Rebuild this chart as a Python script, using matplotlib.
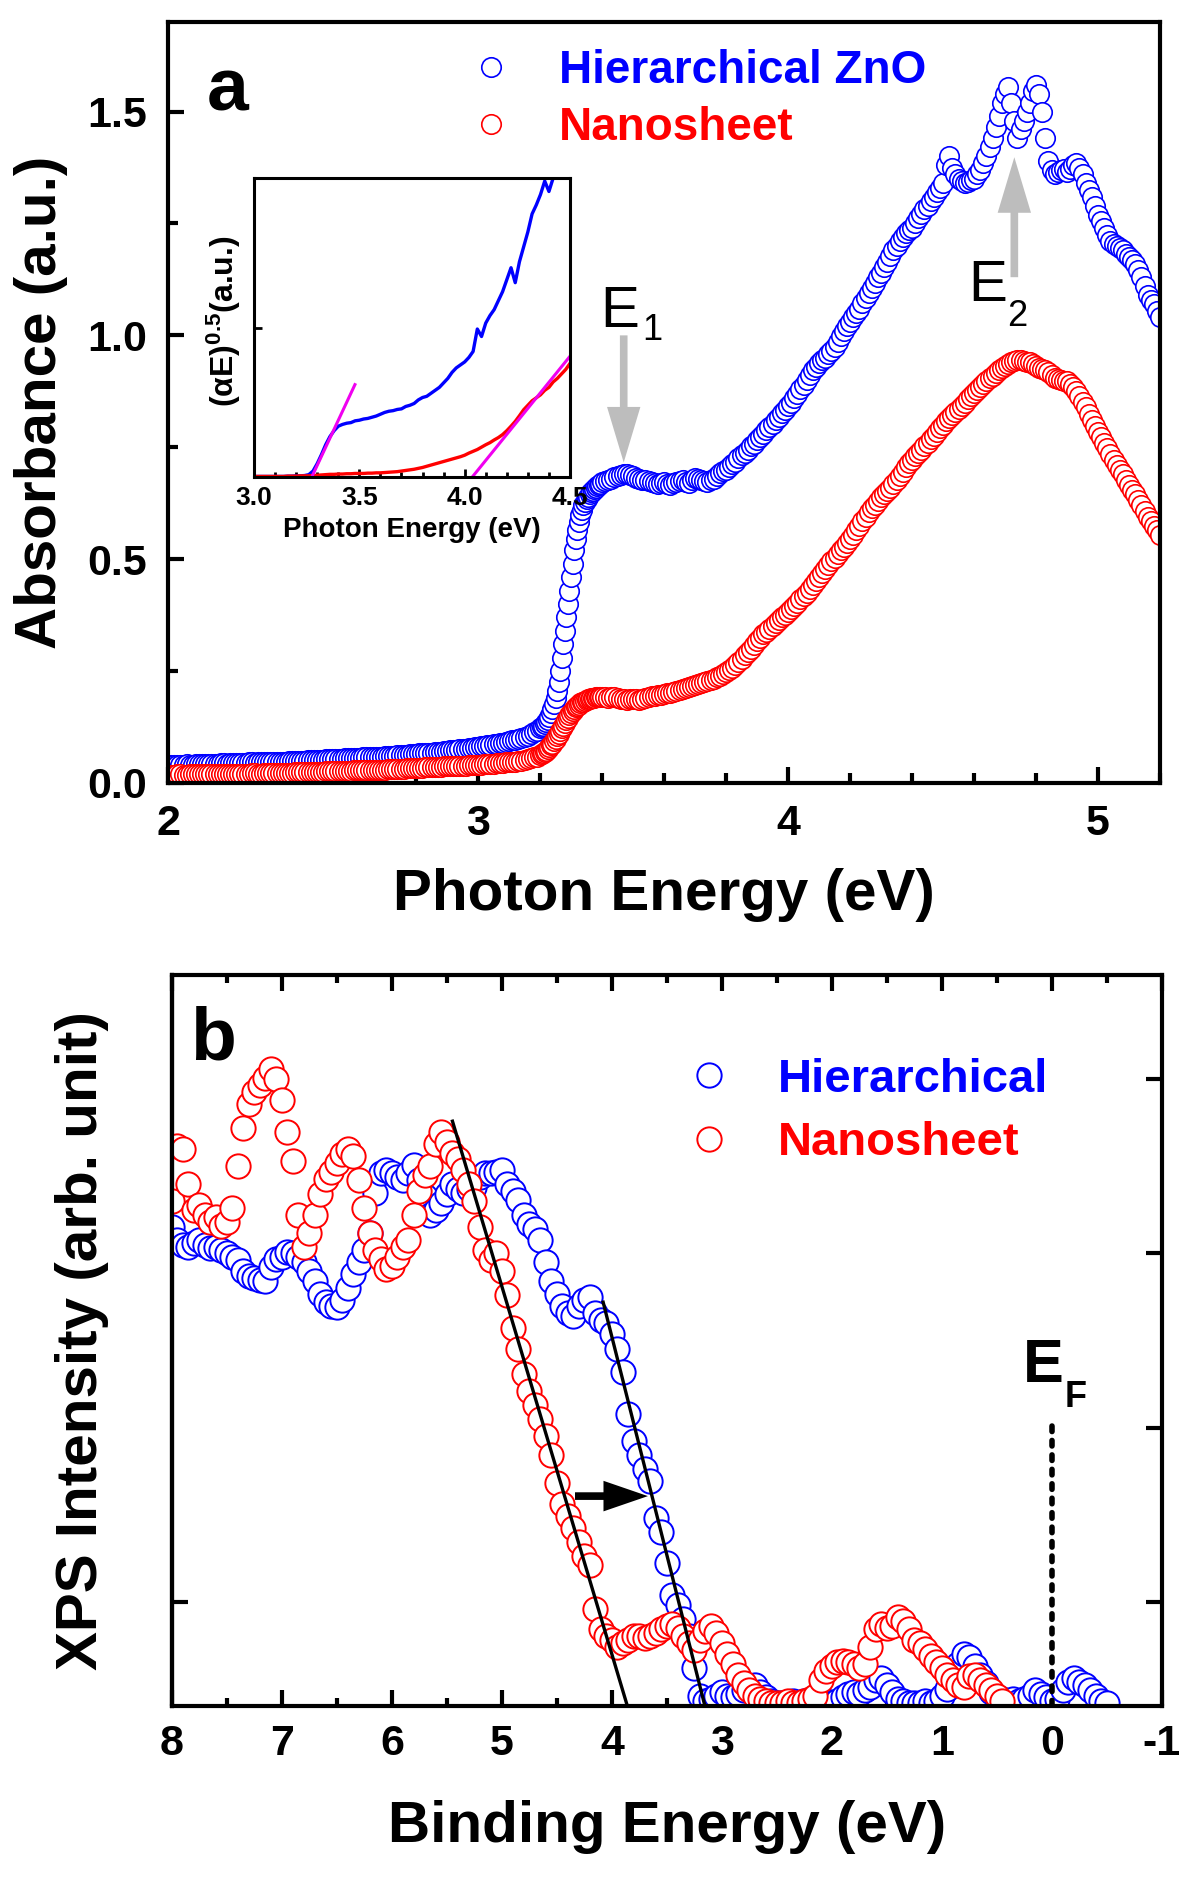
import numpy as np
import matplotlib
matplotlib.use('Agg')
import matplotlib.pyplot as plt
from matplotlib.ticker import MultipleLocator, FormatStrFormatter, NullLocator

plt.rcParams['font.family'] = ['Liberation Sans', 'DejaVu Sans']
plt.rcParams['font.weight'] = 'bold'
plt.rcParams['axes.unicode_minus'] = False
plt.rcParams['mathtext.fontset'] = 'custom'
plt.rcParams['mathtext.rm'] = 'Liberation Sans:bold'
plt.rcParams['mathtext.bf'] = 'Liberation Sans:bold'
plt.rcParams['mathtext.it'] = 'Liberation Sans:bold'

BLUE = '#0000FF'
RED = '#FF0000'
GRAY = '#BDBDBD'
MAGENTA = '#F000F0'

# ---------------- Panel a : absorbance (three energy segments) ----------------
seg_starts = [2.00, 3.205, 3.41]
seg_steps = [0.01, 0.005, 0.01]

abs_hier = [
    [0.040, 0.041, 0.041, 0.040, 0.040, 0.041, 0.042, 0.041, 0.041, 0.042,
     0.042, 0.043, 0.043, 0.042, 0.042, 0.043, 0.043, 0.044, 0.044, 0.043,
     0.044, 0.045, 0.045, 0.044, 0.044, 0.045, 0.046, 0.046, 0.045, 0.046,
     0.046, 0.047, 0.047, 0.047, 0.047, 0.048, 0.048, 0.048, 0.048, 0.049,
     0.049, 0.050, 0.050, 0.050, 0.050, 0.051, 0.051, 0.051, 0.051, 0.052,
     0.052, 0.053, 0.053, 0.053, 0.053, 0.054, 0.054, 0.055, 0.055, 0.055,
     0.055, 0.056, 0.056, 0.057, 0.057, 0.058, 0.058, 0.058, 0.058, 0.059,
     0.060, 0.060, 0.060, 0.061, 0.062, 0.062, 0.063, 0.063, 0.064, 0.064,
     0.065, 0.066, 0.066, 0.067, 0.068, 0.068, 0.069, 0.070, 0.070, 0.071,
     0.072, 0.073, 0.074, 0.074, 0.075, 0.076, 0.077, 0.078, 0.079, 0.080,
     0.081, 0.082, 0.083, 0.084, 0.085, 0.086, 0.088, 0.089, 0.090, 0.092,
     0.093, 0.095, 0.097, 0.099, 0.101, 0.103, 0.106, 0.109, 0.113, 0.117,
     0.122],
    [0.125, 0.128, 0.131, 0.136, 0.141, 0.148, 0.156, 0.165, 0.176, 0.190,
     0.206, 0.225, 0.250, 0.280, 0.310, 0.340, 0.370, 0.400, 0.430, 0.460,
     0.490, 0.520, 0.545, 0.565, 0.583, 0.598, 0.610, 0.620, 0.628, 0.635,
     0.640, 0.645, 0.649, 0.653, 0.657, 0.660, 0.663, 0.666, 0.669, 0.672],
    [0.674, 0.676, 0.680, 0.683, 0.686, 0.688, 0.690, 0.690, 0.688, 0.686,
     0.682, 0.680, 0.678, 0.676, 0.674, 0.672, 0.670, 0.668, 0.670, 0.672,
     0.668, 0.666, 0.670, 0.672, 0.675, 0.676, 0.672, 0.670, 0.676, 0.682,
     0.680, 0.676, 0.674, 0.672, 0.676, 0.680, 0.686, 0.692, 0.696, 0.700,
     0.706, 0.712, 0.718, 0.726, 0.732, 0.738, 0.745, 0.752, 0.758, 0.766,
     0.772, 0.780, 0.788, 0.796, 0.802, 0.810, 0.818, 0.826, 0.834, 0.842,
     0.850, 0.860, 0.870, 0.880, 0.890, 0.900, 0.912, 0.922, 0.930, 0.938,
     0.944, 0.950, 0.958, 0.965, 0.975, 0.985, 0.998, 1.010, 1.020, 1.030,
     1.040, 1.050, 1.060, 1.072, 1.084, 1.095, 1.106, 1.118, 1.130, 1.140,
     1.152, 1.165, 1.178, 1.190, 1.200, 1.210, 1.220, 1.228, 1.236, 1.240,
     1.250, 1.262, 1.272, 1.282, 1.290, 1.300, 1.310, 1.320, 1.330, 1.340,
     1.380, 1.400, 1.375, 1.360, 1.350, 1.345, 1.340, 1.342, 1.346, 1.350,
     1.360, 1.370, 1.385, 1.400, 1.420, 1.440, 1.465, 1.490, 1.520, 1.540,
     1.555, 1.520, 1.480, 1.440, 1.460, 1.480, 1.500, 1.520, 1.545, 1.560,
     1.540, 1.500, 1.440, 1.390, 1.370, 1.360, 1.365, 1.370, 1.372, 1.365,
     1.372, 1.380, 1.385, 1.375, 1.360, 1.340, 1.325, 1.310, 1.290, 1.270,
     1.255, 1.240, 1.225, 1.210, 1.205, 1.200, 1.195, 1.190, 1.182, 1.175,
     1.168, 1.160, 1.145, 1.130, 1.110, 1.090, 1.080, 1.070, 1.055, 1.040],
]
abs_nano = [
    [0.018, 0.018, 0.018, 0.019, 0.019, 0.018, 0.018, 0.019, 0.019, 0.019,
     0.019, 0.020, 0.020, 0.019, 0.019, 0.020, 0.020, 0.020, 0.020, 0.021,
     0.021, 0.020, 0.020, 0.021, 0.021, 0.021, 0.021, 0.022, 0.022, 0.021,
     0.021, 0.022, 0.022, 0.022, 0.022, 0.023, 0.023, 0.023, 0.023, 0.023,
     0.023, 0.024, 0.024, 0.024, 0.024, 0.024, 0.024, 0.025, 0.025, 0.025,
     0.025, 0.026, 0.026, 0.026, 0.026, 0.026, 0.027, 0.027, 0.027, 0.027,
     0.028, 0.028, 0.028, 0.029, 0.029, 0.029, 0.029, 0.030, 0.030, 0.030,
     0.030, 0.031, 0.031, 0.032, 0.032, 0.032, 0.032, 0.033, 0.033, 0.033,
     0.034, 0.034, 0.034, 0.035, 0.035, 0.036, 0.036, 0.036, 0.036, 0.037,
     0.037, 0.038, 0.038, 0.038, 0.038, 0.039, 0.039, 0.040, 0.040, 0.040,
     0.041, 0.041, 0.042, 0.042, 0.043, 0.043, 0.044, 0.045, 0.045, 0.046,
     0.046, 0.047, 0.048, 0.049, 0.050, 0.051, 0.053, 0.055, 0.057, 0.059,
     0.062],
    [0.064, 0.066, 0.069, 0.072, 0.076, 0.080, 0.084, 0.088, 0.093, 0.098,
     0.104, 0.110, 0.116, 0.122, 0.128, 0.134, 0.140, 0.146, 0.151, 0.156,
     0.161, 0.165, 0.169, 0.172, 0.175, 0.178, 0.180, 0.182, 0.184, 0.186,
     0.187, 0.188, 0.189, 0.190, 0.190, 0.191, 0.191, 0.191, 0.192, 0.192],
    [0.191, 0.190, 0.191, 0.192, 0.190, 0.188, 0.187, 0.186, 0.187, 0.188,
     0.187, 0.186, 0.188, 0.190, 0.192, 0.194, 0.195, 0.196, 0.197, 0.198,
     0.200, 0.202, 0.204, 0.206, 0.208, 0.210, 0.212, 0.214, 0.217, 0.220,
     0.222, 0.224, 0.226, 0.228, 0.230, 0.232, 0.236, 0.240, 0.244, 0.248,
     0.253, 0.258, 0.264, 0.270, 0.277, 0.285, 0.292, 0.300, 0.309, 0.318,
     0.325, 0.332, 0.338, 0.345, 0.351, 0.358, 0.364, 0.370, 0.376, 0.382,
     0.389, 0.396, 0.403, 0.410, 0.418, 0.425, 0.433, 0.442, 0.451, 0.460,
     0.469, 0.478, 0.486, 0.495, 0.503, 0.512, 0.520, 0.528, 0.536, 0.545,
     0.555, 0.565, 0.575, 0.585, 0.595, 0.605, 0.614, 0.622, 0.630, 0.638,
     0.645, 0.652, 0.660, 0.668, 0.676, 0.685, 0.695, 0.705, 0.714, 0.722,
     0.730, 0.738, 0.745, 0.752, 0.760, 0.768, 0.776, 0.785, 0.792, 0.800,
     0.808, 0.815, 0.822, 0.828, 0.835, 0.842, 0.850, 0.858, 0.865, 0.872,
     0.878, 0.885, 0.892, 0.898, 0.904, 0.910, 0.916, 0.922, 0.927, 0.932,
     0.936, 0.940, 0.943, 0.945, 0.944, 0.942, 0.941, 0.940, 0.936, 0.932,
     0.928, 0.925, 0.922, 0.918, 0.912, 0.905, 0.902, 0.900, 0.899, 0.898,
     0.892, 0.885, 0.875, 0.865, 0.852, 0.840, 0.825, 0.810, 0.798, 0.785,
     0.772, 0.760, 0.748, 0.735, 0.722, 0.710, 0.700, 0.690, 0.678, 0.665,
     0.655, 0.645, 0.632, 0.620, 0.608, 0.595, 0.585, 0.575, 0.565, 0.555],
]

# inset: (alpha E)^0.5 vs photon energy, grid from 3.00 eV every 0.02 eV
inset_start, inset_step = 3.00, 0.02
inset_hier = [0.002, 0.002, 0.002, 0.002, 0.002, 0.002, 0.002, 0.002, 0.003, 0.003,
              0.004, 0.004, 0.005, 0.008, 0.020, 0.045, 0.075, 0.108, 0.135, 0.155,
              0.170, 0.176, 0.180, 0.182, 0.188, 0.190, 0.194, 0.196, 0.200, 0.204,
              0.210, 0.216, 0.220, 0.222, 0.226, 0.228, 0.236, 0.240, 0.246, 0.258,
              0.266, 0.270, 0.280, 0.290, 0.300, 0.315, 0.330, 0.350, 0.365, 0.375,
              0.385, 0.400, 0.420, 0.495, 0.470, 0.515, 0.540, 0.560, 0.590, 0.620,
              0.660, 0.700, 0.650, 0.720, 0.770, 0.820, 0.880, 0.910, 0.945, 0.990,
              0.955, 1.000, 1.030, 1.060]
inset_nano = [0.002, 0.002, 0.002, 0.002, 0.002, 0.002, 0.002, 0.002, 0.003, 0.003,
              0.003, 0.004, 0.004, 0.004, 0.005, 0.006, 0.007, 0.008, 0.009, 0.009,
              0.010, 0.010, 0.011, 0.011, 0.012, 0.012, 0.012, 0.013, 0.013, 0.014,
              0.014, 0.015, 0.016, 0.017, 0.018, 0.020, 0.022, 0.024, 0.026, 0.029,
              0.032, 0.036, 0.040, 0.044, 0.048, 0.052, 0.056, 0.060, 0.064, 0.068,
              0.073, 0.080, 0.086, 0.092, 0.100, 0.108, 0.115, 0.124, 0.132, 0.142,
              0.155, 0.170, 0.186, 0.205, 0.225, 0.240, 0.255, 0.265, 0.275, 0.290,
              0.300, 0.318, 0.330, 0.345, 0.360, 0.380]
fit_hier_x = [3.274, 3.479]
fit_hier_y = [0.0, 0.309]
fit_nano_x = [4.036, 4.50]
fit_nano_y = [0.0, 0.404]

# ---------------- Panel b : XPS valence band, from 8.00 eV in 0.05 eV steps ----------------
xps_start, xps_step = 8.00, -0.05
xps_hier = [3.15, 3.08, 3.05, 3.04, 3.06, 3.08, 3.05, 3.03, 3.04, 3.02,
            3.00, 2.98, 2.96, 2.90, 2.87, 2.86, 2.85, 2.84, 2.92, 2.97,
            2.98, 3.01, 3.00, 2.98, 2.95, 2.90, 2.84, 2.77, 2.72, 2.70,
            2.69, 2.73, 2.80, 2.88, 2.95, 3.02, 3.12, 3.35, 3.46, 3.48,
            3.46, 3.44, 3.42, 3.46, 3.51, 3.42, 3.33, 3.22, 3.25, 3.29,
            3.34, 3.40, 3.37, 3.35, 3.37, 3.38, 3.44, 3.46, 3.46, 3.47,
            3.48, 3.40, 3.36, 3.31, 3.22, 3.17, 3.14, 3.08, 2.95, 2.84,
            2.77, 2.70, 2.66, 2.64, 2.70, 2.73, 2.75, 2.66, 2.62, 2.60,
            2.54, 2.45, 2.32, 2.08, 1.92, 1.84, 1.76, 1.69, 1.48, 1.40,
            1.22, 1.04, 0.98, 0.90, 0.80, 0.62, 0.46, 0.43, 0.44, 0.46,
            0.48, 0.46, 0.45, 0.47, 0.49, 0.51, 0.52, 0.48, 0.45, 0.43,
            0.42, 0.42, 0.42, 0.43, 0.42, 0.43, 0.42, 0.43, 0.42, 0.43,
            0.42, 0.43, 0.45, 0.47, 0.48, 0.47, 0.49, 0.51, 0.55, 0.56,
            0.52, 0.48, 0.44, 0.43, 0.42, 0.42, 0.42, 0.43, 0.42, 0.43,
            0.46, 0.50, 0.58, 0.64, 0.70, 0.68, 0.63, 0.58, 0.53, 0.48,
            0.45, 0.44, 0.43, 0.44, 0.43, 0.44, 0.46, 0.49, 0.47, 0.45,
            0.43, 0.44, 0.49, 0.54, 0.56, 0.54, 0.52, 0.49, 0.46, 0.43,
            0.42]
xps_nano = [3.30, 3.62, 3.60, 3.40, 3.25, 3.28, 3.22, 3.18, 3.21, 3.16,
            3.18, 3.26, 3.50, 3.72, 3.86, 3.93, 3.97, 4.01, 4.06, 4.00,
            3.88, 3.70, 3.53, 3.22, 3.04, 3.12, 3.22, 3.34, 3.43, 3.47,
            3.52, 3.57, 3.60, 3.56, 3.42, 3.26, 3.12, 3.02, 2.97, 2.91,
            2.93, 2.98, 3.04, 3.08, 3.22, 3.36, 3.45, 3.50, 3.63, 3.70,
            3.64, 3.58, 3.54, 3.48, 3.40, 3.30, 3.15, 3.02, 2.96, 3.00,
            2.90, 2.76, 2.57, 2.45, 2.31, 2.21, 2.13, 2.05, 1.95, 1.84,
            1.68, 1.56, 1.49, 1.42, 1.34, 1.26, 1.21, 0.96, 0.84, 0.80,
            0.78, 0.74, 0.76, 0.78, 0.80, 0.80, 0.79, 0.80, 0.82, 0.84,
            0.86, 0.87, 0.85, 0.80, 0.76, 0.72, 0.78, 0.83, 0.86, 0.82,
            0.76, 0.70, 0.64, 0.58, 0.53, 0.49, 0.46, 0.44, 0.43, 0.42,
            0.42, 0.42, 0.43, 0.42, 0.42, 0.43, 0.44, 0.46, 0.55, 0.60,
            0.63, 0.65, 0.66, 0.65, 0.64, 0.62, 0.64, 0.74, 0.84, 0.87,
            0.85, 0.86, 0.91, 0.89, 0.84, 0.78, 0.76, 0.73, 0.69, 0.65,
            0.62, 0.58, 0.55, 0.52, 0.51, 0.57, 0.58, 0.55, 0.52, 0.49,
            0.46, 0.43]
edge_nano_x = [5.45, 3.86]
edge_nano_y = [3.76, 0.40]
edge_hier_x = [4.08, 3.155]
edge_hier_y = [2.72, 0.40]
ef_x = [0.0, 0.0]
ef_y = [0.40, 2.03]


def build_x(starts, steps, segs):
    return np.concatenate([s + st * np.arange(len(v)) for s, st, v in zip(starts, steps, segs)])


xa = build_x(seg_starts, seg_steps, abs_hier)
ya_h = np.concatenate(abs_hier)
ya_n = np.concatenate(abs_nano)
xi_h = inset_start + inset_step * np.arange(len(inset_hier))
xi_n = inset_start + inset_step * np.arange(len(inset_nano))
xb_h = xps_start + xps_step * np.arange(len(xps_hier))
xb_n = xps_start + xps_step * np.arange(len(xps_nano))

fig = plt.figure(figsize=(12, 18.84), dpi=100)
fig.patch.set_facecolor('white')

SPINE_W = 3.0
TICK_FS = 31
LABEL_FS = 42
LEG_FS = 33

# ======================= Panel a =======================
axA = fig.add_axes([0.1400, 0.5844, 0.8267, 0.4039])
axA.plot(xa, ya_h, 'o', ms=14, mfc='white', mec=BLUE, mew=1.2, label='Hierarchical ZnO')
axA.plot(xa, ya_n, 'o', ms=14, mfc='white', mec=RED, mew=1.2, label='Nanosheet')
axA.set_xlim(2.0, 5.2)
axA.set_ylim(0.0, 1.7)
axA.set_xticks([2, 3, 4, 5])
axA.xaxis.set_minor_locator(MultipleLocator(0.2))
axA.set_yticks([0.0, 0.5, 1.0, 1.5])
axA.yaxis.set_minor_locator(MultipleLocator(0.25))
axA.yaxis.set_major_formatter(FormatStrFormatter('%.1f'))
axA.tick_params(which='both', direction='in', top=False, right=False, width=SPINE_W, labelsize=TICK_FS)
axA.tick_params(which='major', length=11.5, pad=15)
axA.tick_params(which='minor', length=7)
for sp in axA.spines.values():
    sp.set_linewidth(SPINE_W)
axA.set_xlabel('Photon Energy (eV)', fontsize=LABEL_FS, fontweight='bold')
axA.set_ylabel('Absorbance (a.u.)', fontsize=LABEL_FS, fontweight='bold')
axA.xaxis.set_label_coords(0.5, -0.1117)
axA.yaxis.set_label_coords(-0.1008, 0.5)
axA.legend(loc='upper left', bbox_to_anchor=(0.3024, 0.965), frameon=False,
           prop={'size': LEG_FS, 'weight': 'bold'}, handlelength=1.0, handletextpad=0.98,
           borderpad=0, borderaxespad=0, labelspacing=0.30, numpoints=1,
           labelcolor=[BLUE, RED])
axA.text(0.039, 0.884, 'a', transform=axA.transAxes, fontsize=54, fontweight='bold', va='baseline')

# E1 / E2 markers
axA.text(3.393, 1.018, 'E', fontsize=42, fontweight='normal', va='baseline')
axA.text(3.530, 0.990, '1', fontsize=26, fontweight='normal', va='baseline')
axA.text(4.580, 1.076, 'E', fontsize=42, fontweight='normal', va='baseline')
axA.text(4.706, 1.020, '2', fontsize=26, fontweight='normal', va='baseline')
gray_arrow = dict(arrowstyle='simple,head_length=40,head_width=24,tail_width=5.5',
                  mutation_scale=1, color=GRAY, lw=0, shrinkA=0, shrinkB=0)
axA.annotate('', xy=(3.47, 0.716), xytext=(3.47, 1.000), arrowprops=gray_arrow)
axA.annotate('', xy=(4.73, 1.398), xytext=(4.73, 1.130), arrowprops=gray_arrow)

# ======================= Inset =======================
axI = fig.add_axes([0.2117, 0.7468, 0.2633, 0.1587])
axI.plot(xi_h, inset_hier, color=BLUE, lw=2.4)
axI.plot(xi_n, inset_nano, color=RED, lw=2.4)
axI.plot(fit_hier_x, fit_hier_y, color=MAGENTA, lw=2.2)
axI.plot(fit_nano_x, fit_nano_y, color=MAGENTA, lw=2.2)
axI.set_xlim(3.0, 4.5)
axI.set_ylim(0.0, 1.0)
axI.set_xticks([3.0, 3.5, 4.0, 4.5])
axI.xaxis.set_major_formatter(FormatStrFormatter('%.1f'))
axI.xaxis.set_minor_locator(MultipleLocator(0.1))
axI.set_yticks([0.5])
axI.yaxis.set_minor_locator(NullLocator())
axI.tick_params(which='both', direction='in', top=False, right=False, width=2.0,
                labelsize=19, labelleft=False)
axI.tick_params(which='major', length=6, pad=6.5)
axI.tick_params(which='minor', length=3.5)
for sp in axI.spines.values():
    sp.set_linewidth(2.2)
axI.set_xlabel('Photon Energy (eV)', fontsize=20, fontweight='bold')
axI.set_ylabel('(αE)$^{0.5}$(a.u.)', fontsize=23, fontweight='bold')
axI.xaxis.set_label_coords(0.5, -0.135)
axI.yaxis.set_label_coords(-0.034, 0.52)

# ======================= Panel b =======================
axB = fig.add_axes([0.1433, 0.09448, 0.8250, 0.3880])
axB.plot(xb_h, xps_hier, 'o', ms=17.5, mfc='white', mec=BLUE, mew=1.4, label='Hierarchical')
axB.plot(xb_n, xps_nano, 'o', ms=17.5, mfc='white', mec=RED, mew=1.4, label='Nanosheet')
axB.plot(edge_nano_x, edge_nano_y, color='black', lw=2.4)
axB.plot(edge_hier_x, edge_hier_y, color='black', lw=2.4)
axB.plot(ef_x, ef_y, color='black', lw=4.0, ls=(0, (1.0, 1.6)), dash_capstyle='round')
axB.annotate('', xy=(3.673, 1.606), xytext=(4.336, 1.606),
             arrowprops=dict(arrowstyle='simple,head_length=32,head_width=22,tail_width=5.5',
                             mutation_scale=1, color='black', lw=0, shrinkA=0, shrinkB=0))
axB.set_xlim(8, -1)
axB.set_ylim(0.40, 4.60)
axB.set_xticks([8, 7, 6, 5, 4, 3, 2, 1, 0, -1])
axB.xaxis.set_minor_locator(MultipleLocator(0.5))
axB.set_yticks([1, 2, 3, 4])
axB.yaxis.set_minor_locator(NullLocator())
axB.tick_params(axis='x', which='both', direction='in', top=True, bottom=True,
                width=SPINE_W, labelsize=TICK_FS)
axB.tick_params(axis='x', which='major', length=11.5, pad=13)
axB.tick_params(axis='x', which='minor', length=6)
axB.tick_params(axis='y', which='major', direction='in', left=False, right=True,
                labelleft=False, labelright=False, length=11.5, width=SPINE_W)
secB = axB.secondary_yaxis('left')
secB.set_yticks([1])
secB.tick_params(direction='in', length=11.5, width=SPINE_W, labelleft=False)
secB.yaxis.set_minor_locator(NullLocator())
secB.spines['left'].set_linewidth(SPINE_W)
for sp in axB.spines.values():
    sp.set_linewidth(SPINE_W)
axB.set_xlabel('Binding Energy (eV)', fontsize=LABEL_FS, fontweight='bold')
axB.set_ylabel('XPS Intensity (arb. unit)', fontsize=LABEL_FS, fontweight='bold')
axB.yaxis.set_label_position('left')
axB.xaxis.set_label_coords(0.5, -0.1286)
axB.yaxis.set_label_coords(-0.0636, 0.5)
axB.legend(loc='upper left', bbox_to_anchor=(0.519, 0.887), frameon=False,
           prop={'size': 34, 'weight': 'bold'}, handlelength=1.0, handletextpad=0.95,
           borderpad=0, borderaxespad=0, labelspacing=0.42, numpoints=1,
           labelcolor=[BLUE, RED])
axB.text(0.018, 0.884, 'b', transform=axB.transAxes, fontsize=54, fontweight='bold', va='baseline')
axB.text(0.264, 2.263, 'E', fontsize=44, fontweight='bold', ha='left', va='baseline')
axB.text(-0.118, 2.12, 'F', fontsize=26, fontweight='bold', ha='left', va='baseline')

fig.savefig('out.png', dpi=100, facecolor='white')
